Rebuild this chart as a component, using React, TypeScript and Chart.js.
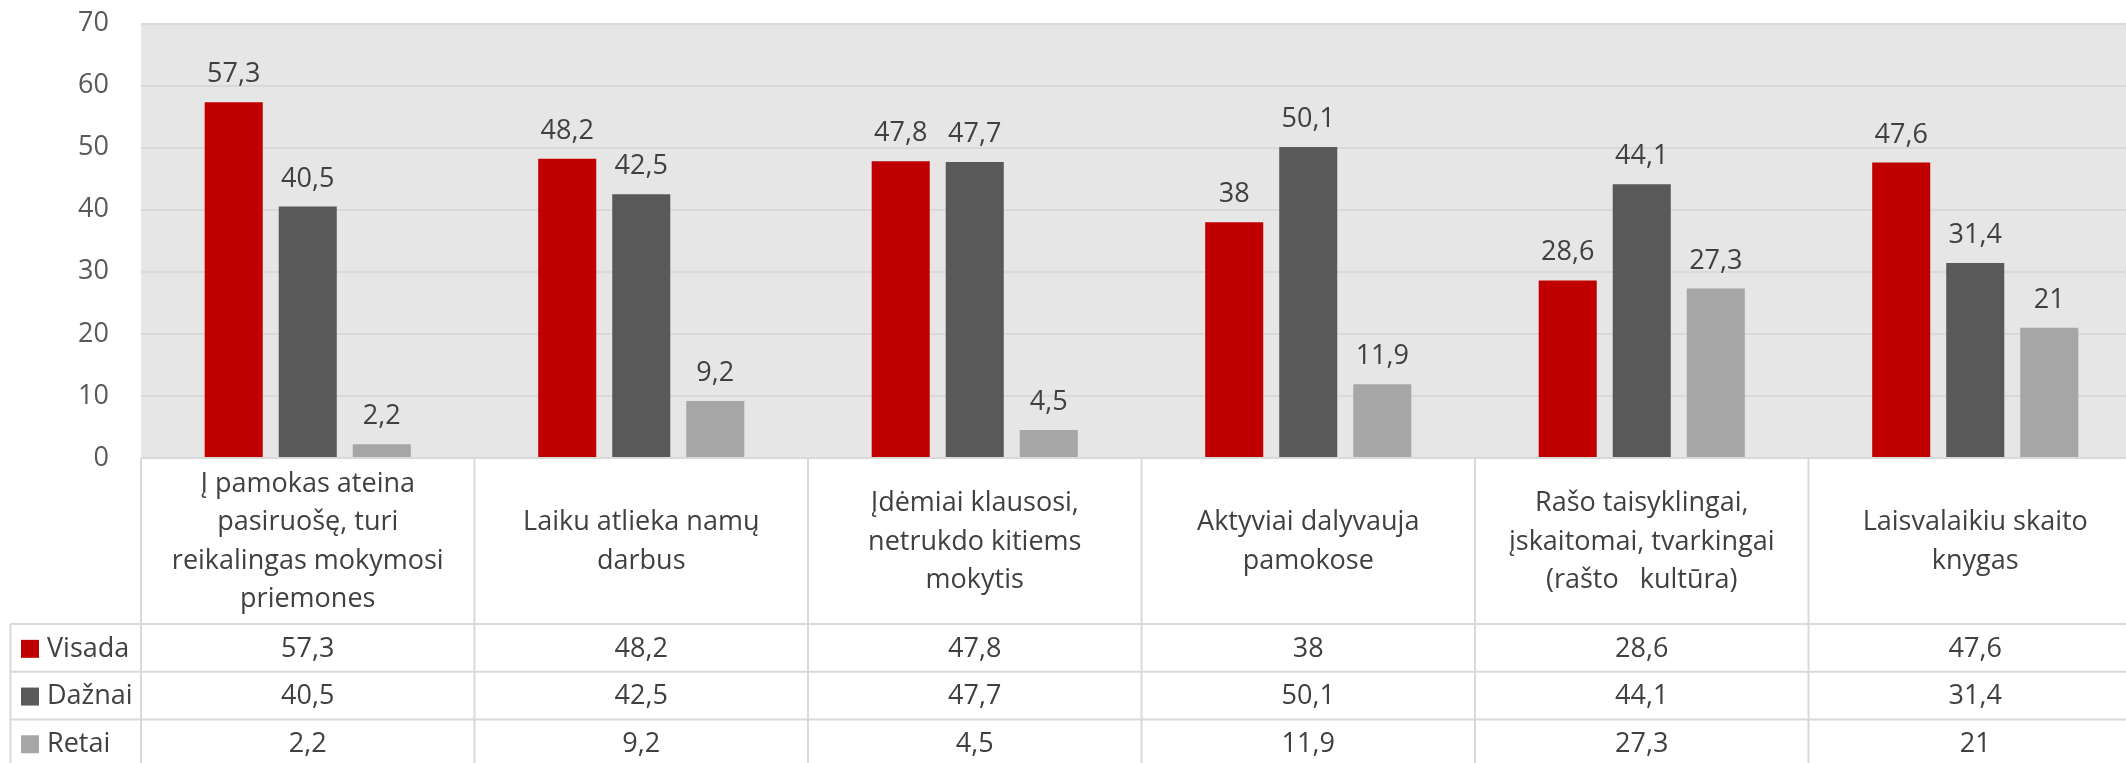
import React, { useEffect, useRef } from "react";
import { Chart, registerables } from "chart.js";
Chart.register(...registerables);

const categories: string[][] = [
  ["Į pamokas ateina", "pasiruošę, turi", "reikalingas mokymosi", "priemones"],
  ["Laiku atlieka namų", "darbus"],
  ["Įdėmiai klausosi,", "netrukdo kitiems", "mokytis"],
  ["Aktyviai dalyvauja", "pamokose"],
  ["Rašo taisyklingai,", "įskaitomai, tvarkingai", "(rašto   kultūra)"],
  ["Laisvalaikiu skaito", "knygas"],
];
const seriesNames = ["Visada", "Dažnai", "Retai"];
const visada = [57.3, 48.2, 47.8, 38, 28.6, 47.6];
const daznai = [40.5, 42.5, 47.7, 50.1, 44.1, 31.4];
const retai = [2.2, 9.2, 4.5, 11.9, 27.3, 21];
const seriesColors = ["#C00000", "#595959", "#A6A6A6"];
const yMin = 0;
const yMax = 70;
const yStep = 10;

const FONT = "'Open Sans', 'Noto Sans', sans-serif";
const FS = 27;
const TEXT = "#404040";
const BORDER = "#D9D9D9";

const fmt = (v: number) => String(v).replace(".", ",");

const CW = 2150;
const CH = 763;

export default function App() {
  const ref = useRef<HTMLCanvasElement | null>(null);
  useEffect(() => {
    if (!ref.current) return;
    const series = [visada, daznai, retai];

    const bgPlugin = {
      id: "plotBg",
      beforeDraw(chart: any) {
        const { ctx, chartArea: a } = chart;
        ctx.save();
        ctx.fillStyle = "#E7E6E6";
        ctx.fillRect(a.left, a.top, a.right - a.left, a.bottom - a.top);
        ctx.restore();
      },
    };

    const labelPlugin = {
      id: "valueLabels",
      afterDatasetsDraw(chart: any) {
        const { ctx } = chart;
        ctx.save();
        ctx.font = `${FS}px ${FONT}`;
        ctx.fillStyle = TEXT;
        ctx.textAlign = "center";
        ctx.textBaseline = "alphabetic";
        chart.data.datasets.forEach((ds: any, i: number) => {
          const meta = chart.getDatasetMeta(i);
          meta.data.forEach((el: any, j: number) => {
            ctx.fillText(fmt(ds.data[j]), el.x, el.y - 20);
          });
        });
        ctx.restore();
      },
    };

    const tablePlugin = {
      id: "dataTable",
      afterDraw(chart: any) {
        const { ctx, chartArea: a } = chart;
        const xs = chart.scales.x;
        const n = categories.length;
        const cw = (a.right - a.left) / n;
        const headTop = a.bottom;
        const headBottom = 624;
        const rowH = 47.7;
        const tableLeft = 10.5;
        ctx.save();
        ctx.strokeStyle = BORDER;
        ctx.lineWidth = 2;
        for (let i = 0; i <= n; i++) {
          const x = a.left + i * cw;
          ctx.beginPath();
          ctx.moveTo(x, headTop);
          ctx.lineTo(x, CH + 20);
          ctx.stroke();
        }
        ctx.beginPath();
        ctx.moveTo(tableLeft, headBottom);
        ctx.lineTo(tableLeft, CH + 20);
        ctx.stroke();
        for (let r = 0; r < 3; r++) {
          const y = headBottom + r * rowH;
          ctx.beginPath();
          ctx.moveTo(tableLeft, y);
          ctx.lineTo(CW, y);
          ctx.stroke();
        }
        ctx.font = `${FS}px ${FONT}`;
        ctx.fillStyle = TEXT;
        ctx.textAlign = "center";
        ctx.textBaseline = "middle";
        const lh = 38.5;
        const midHead = (headTop + headBottom) / 2 + 1;
        categories.forEach((lines, i) => {
          const cx = xs.getPixelForValue(i);
          const start = midHead - ((lines.length - 1) * lh) / 2;
          lines.forEach((ln, k) => ctx.fillText(ln, cx, start + k * lh));
        });
        series.forEach((vals, r) => {
          const cy = headBottom + r * rowH + rowH / 2 + 1;
          ctx.fillStyle = seriesColors[r];
          ctx.fillRect(21, cy - 9, 18, 18);
          ctx.fillStyle = TEXT;
          ctx.textAlign = "left";
          ctx.fillText(seriesNames[r], 47, cy);
          ctx.textAlign = "center";
          vals.forEach((v, i) => {
            ctx.fillText(fmt(v), xs.getPixelForValue(i), cy);
          });
        });
        ctx.restore();
      },
    };

    const chart = new Chart(ref.current, {
      type: "bar",
      data: {
        labels: categories.map((l) => l.join(" ")),
        datasets: series.map((vals, i) => ({
          label: seriesNames[i],
          data: vals,
          backgroundColor: seriesColors[i],
          borderWidth: 0,
          categoryPercentage: 0.666,
          barPercentage: 0.784,
        })),
      },
      options: {
        animation: false,
        responsive: false,
        devicePixelRatio: 1,
        layout: { padding: { left: 0, top: 23.5, right: CW - 2142, bottom: CH - 458 } },
        plugins: { legend: { display: false }, tooltip: { enabled: false } },
        scales: {
          x: { display: false },
          y: {
            min: yMin,
            max: yMax,
            ticks: {
              stepSize: yStep,
              padding: 0,
              color: "#595959",
              font: { family: FONT, size: FS },
            },
            grid: {
              color: BORDER,
              lineWidth: 2,
              drawTicks: true,
              tickLength: 32,
              tickColor: "rgba(0,0,0,0)",
            },
            border: { display: false },
            afterFit: (scale: any) => {
              scale.width = 141;
            },
          },
        },
      },
      plugins: [bgPlugin, labelPlugin, tablePlugin],
    });
    return () => chart.destroy();
  }, []);

  return (
    <div
      style={{
        position: "absolute",
        left: 0,
        top: 0,
        width: 2126,
        height: 763,
        overflow: "hidden",
        background: "#fff",
      }}
    >
      <canvas ref={ref} width={CW} height={CH} style={{ display: "block", width: CW, height: CH }} />
    </div>
  );
}
